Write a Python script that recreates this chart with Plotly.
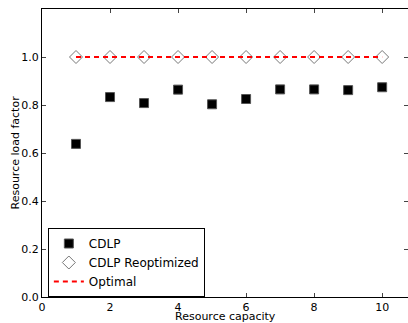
import plotly.graph_objects as go

capacity = [1, 2, 3, 4, 5, 6, 7, 8, 9, 10]
cdlp = [0.638, 0.833, 0.808, 0.864, 0.803, 0.825, 0.865, 0.865, 0.862, 0.874]
cdlp_reopt = [1.0, 1.0, 1.0, 1.0, 1.0, 1.0, 1.0, 1.0, 1.0, 1.0]
optimal = [1.0, 1.0, 1.0, 1.0, 1.0, 1.0, 1.0, 1.0, 1.0, 1.0]
x_ticks = [0, 2, 4, 6, 8, 10]
y_ticks = [0.0, 0.2, 0.4, 0.6, 0.8, 1.0]
y_labels = ["0.0", "0.2", "0.4", "0.6", "0.8", "1.0"]

fig = go.Figure()
fig.add_trace(go.Scatter(
    x=capacity, y=cdlp, mode="markers", name="CDLP",
    marker=dict(symbol="square", size=9, color="black",
                line=dict(color="#555555", width=1)),
))
fig.add_trace(go.Scatter(
    x=capacity, y=cdlp_reopt, mode="markers", name="CDLP Reoptimized",
    marker=dict(symbol="diamond", size=10, color="white",
                line=dict(color="#777777", width=1)),
))
fig.add_trace(go.Scatter(
    x=capacity, y=optimal, mode="lines", name="Optimal",
    line=dict(color="red", width=1.8, dash="5px,4px"),
))

fig.update_layout(
    width=408, height=323,
    margin=dict(l=42, r=0, t=9, b=26),
    paper_bgcolor="white", plot_bgcolor="white",
    font=dict(family="DejaVu Sans", size=11, color="black"),
    showlegend=True,
    legend=dict(
        x=0.016, y=0.0, xanchor="left", yanchor="bottom",
        bordercolor="black", borderwidth=1, bgcolor="white",
        font=dict(size=12, family="DejaVu Sans"),
        itemwidth=30, tracegroupgap=0,
    ),
    xaxis=dict(
        range=[0, 10.76], tickvals=x_ticks, ticks="inside", ticklen=4,
        showline=True, linecolor="black", linewidth=1, mirror="ticks",
        showgrid=False, zeroline=False, automargin=False,
        tickfont=dict(size=11),
    ),
    yaxis=dict(
        range=[0, 1.2], tickvals=y_ticks, ticktext=y_labels,
        ticks="inside", ticklen=4,
        showline=True, linecolor="black", linewidth=1, mirror="ticks",
        showgrid=False, zeroline=False, automargin=False,
        tickfont=dict(size=11),
    ),
    annotations=[
        dict(text="Resource capacity", xref="paper", yref="paper",
             x=0.5, y=0, yshift=-19, xanchor="center", yanchor="middle",
             showarrow=False, font=dict(size=11), borderpad=0),
        dict(text="Resource load factor", xref="paper", yref="paper",
             x=0, xshift=-19, y=0.5, xanchor="right", yanchor="middle",
             textangle=-90, showarrow=False, font=dict(size=11)),
    ],
)
fig.write_html("out.html", config={"displayModeBar": False},
               post_script="document.body.style.margin='0';")
